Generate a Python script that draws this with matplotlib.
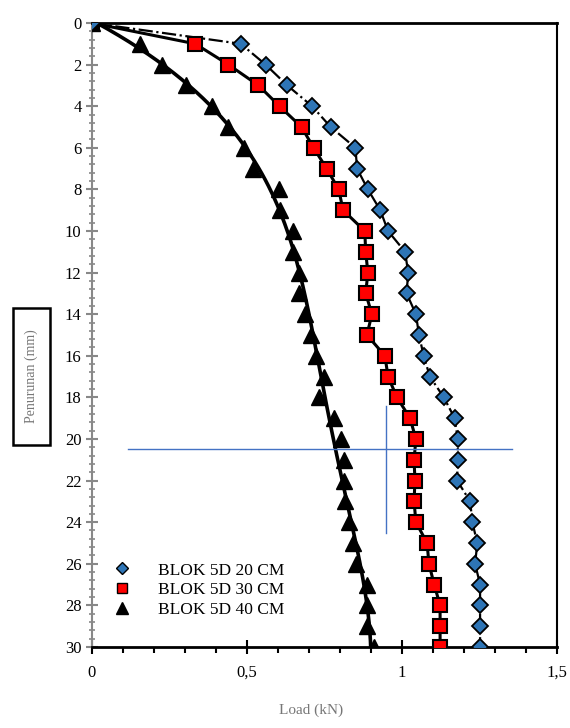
import matplotlib.pyplot as plt
import numpy as np
from matplotlib.lines import Line2D
from matplotlib.patches import Rectangle
from matplotlib.ticker import MultipleLocator, FuncFormatter

plt.rcParams['font.family'] = ['Liberation Serif', 'DejaVu Serif']

# settlement (mm), same steps for every series
settle = list(range(0, 31))

load_20 = [0, 0.48, 0.56, 0.63, 0.71, 0.77, 0.85, 0.855, 0.89, 0.93, 0.955,
           1.01, 1.02, 1.015, 1.045, 1.055, 1.07, 1.09, 1.135, 1.17, 1.18,
           1.18, 1.178, 1.22, 1.227, 1.243, 1.236, 1.252, 1.252, 1.252, 1.252]
load_30 = [0, 0.333, 0.44, 0.537, 0.605, 0.676, 0.715, 0.757, 0.796, 0.81, 0.88,
           0.883, 0.89, 0.883, 0.903, 0.887, 0.945, 0.955, 0.984, 1.026, 1.045,
           1.039, 1.042, 1.039, 1.045, 1.081, 1.087, 1.104, 1.123, 1.123, 1.123]
load_40 = [0, 0.155, 0.227, 0.304, 0.388, 0.44, 0.489, 0.521, 0.602, 0.608, 0.65,
           0.65, 0.667, 0.667, 0.686, 0.706, 0.722, 0.748, 0.731, 0.78, 0.803,
           0.812, 0.812, 0.816, 0.828, 0.841, 0.851, 0.887, 0.887, 0.887, 0.909]

labels = ['BLOK 5D 20 CM', 'BLOK 5D 30 CM', 'BLOK 5D 40 CM']

# blue guide lines drawn on the chart
hline_y, hline_x = 20.5, (0.116, 1.355)
vline_x, vline_y = 0.95, (18.4, 24.5)

fig = plt.figure(figsize=(5.7, 7.28), dpi=100)
ax = fig.add_axes([0.1614, 0.1113, 0.8157, 0.8571])

# trend lines
ax.plot(load_20, settle, color='black', lw=1.6, ls='-.', zorder=2)
ax.plot(load_30, settle, color='black', lw=2.2, zorder=2)
s = np.array(settle, dtype=float)
coef = np.polyfit(s, load_40, 4)
ss = np.linspace(0, 30, 200)
ax.plot(np.polyval(coef, ss), ss, color='black', lw=2.6, zorder=2)

# markers
ax.plot(load_20, settle, ls='none', marker='D', ms=8, mfc='#2E75B6', mec='black', mew=1.3, zorder=4)
ax.plot(load_30, settle, ls='none', marker='s', ms=10.5, mfc='#FF0000', mec='black', mew=1.5, zorder=3)
ax.plot(load_40, settle, ls='none', marker='^', ms=11, mfc='black', mec='black', zorder=3)

ax.plot(hline_x, [hline_y, hline_y], color='#4472C4', lw=1, zorder=5)
ax.plot([vline_x, vline_x], vline_y, color='#4472C4', lw=1, zorder=5)

ax.set_xlim(0, 1.5)
ax.set_ylim(30, 0)
ax.xaxis.set_major_locator(MultipleLocator(0.5))
ax.xaxis.set_minor_locator(MultipleLocator(0.1))
ax.yaxis.set_major_locator(MultipleLocator(2))
ax.yaxis.set_minor_locator(MultipleLocator(0.4))
ax.xaxis.set_major_formatter(FuncFormatter(lambda v, p: ('%g' % v).replace('.', ',')))

ax.tick_params(axis='x', which='major', direction='inout', length=10, width=1.5, labelsize=12, pad=8, color='black')
ax.tick_params(axis='x', which='minor', direction='out', length=4, width=1.5, color='black')
ax.tick_params(axis='y', which='major', direction='inout', length=8, width=1.5, labelsize=12, color='#888888')
ax.tick_params(axis='y', which='minor', direction='inout', length=5, width=1.2, color='#888888')

for side in ['top', 'bottom']:
    ax.spines[side].set_linewidth(2)
ax.spines['right'].set_linewidth(1.5)
ax.spines['left'].set_color('#888888')
ax.spines['left'].set_linewidth(1.5)

handles = [
    Line2D([], [], ls='none', marker='D', ms=6, mfc='#2E75B6', mec='black', mew=1),
    Line2D([], [], ls='none', marker='s', ms=7, mfc='#FF0000', mec='black', mew=1),
    Line2D([], [], ls='none', marker='^', ms=9, mfc='black', mec='black'),
]
ax.legend(handles, labels, loc='upper left', bbox_to_anchor=(0.0, 0.155), frameon=False,
          fontsize=12.5, handletextpad=1.1, labelspacing=0.2, borderaxespad=0.3)

fig.text(0.545, 0.015, 'Load (kN)', color='#777777', fontsize=11, ha='center', va='bottom')
fig.patches.append(Rectangle((13 / 570, 1 - 445 / 728), 37 / 570, 137 / 728,
                             transform=fig.transFigure, fill=False, ec='black', lw=1.8))
fig.text(31.5 / 570, 1 - 376.5 / 728, 'Penurunan (mm)', color='#777777', fontsize=10,
         rotation=90, ha='center', va='center')

fig.savefig('out.png', dpi=100)
